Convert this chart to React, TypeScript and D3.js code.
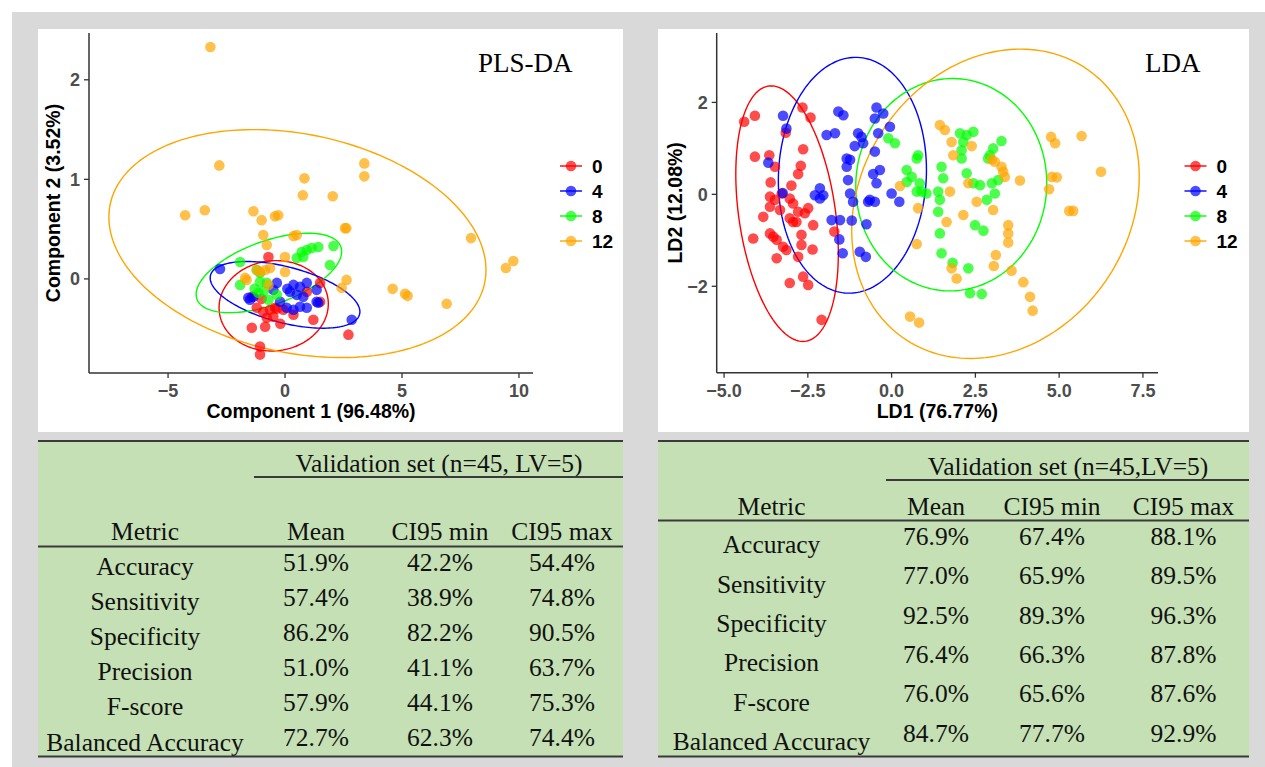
import React from "react";
import * as d3 from "d3";

type P = [number, number];

const groups = ["0", "4", "8", "12"];
const groupColors = ["#FF0000", "#0000FF", "#00FF00", "#FFA500"];

// ---------- PLS-DA scores ----------
const plsG0: P[] = [
  [-0.71, 0.22], [-1.42, -0.18], [-1.21, -0.29], [-0.93, -0.33], [-0.64, -0.31], [-0.5, -0.38],
  [-0.78, -0.39], [-1.42, -0.49], [-0.85, -0.48], [-1.07, -0.68], [-1.07, -0.76], [1.21, -0.41],
  [1.5, -0.04], [2.71, -0.56], [-0.43, -0.29], [-0.07, -0.31], [0.36, -0.36], [0.93, -0.13],
  [1.5, -0.23], [-0.35, -0.3], [-1.0, -0.2], [-0.2, -0.45],
];
const plsG4: P[] = [
  [-2.78, 0.1], [2.85, -0.41], [0.36, -0.06], [0.64, -0.08], [0.93, -0.04], [0.21, -0.13],
  [0.5, -0.16], [0.78, -0.18], [0.07, -0.29], [0.36, -0.31], [0.64, -0.28], [1.35, -0.23],
  [0.93, -0.29], [-1.5, -0.21], [-1.35, -0.18], [-0.35, -0.04], [-0.5, -0.11], [-0.21, -0.23],
  [1.35, -0.11], [1.42, -0.24], [-1.57, -0.19], [0.1, -0.1],
];
const plsG8: P[] = [
  [2.07, 0.33], [1.42, 0.32], [1.14, 0.31], [0.93, 0.29], [0.71, 0.27], [0.5, 0.21],
  [1.92, 0.14], [-1.92, 0.17], [-1.21, 0.09], [-1.07, 0.06], [-1.92, -0.06], [-1.07, -0.03],
  [-0.78, -0.04], [-1.14, -0.14], [-0.71, -0.21], [-0.35, -0.16], [0.78, 0.22], [-1.3, -0.1],
  [-0.9, -0.12],
];
const plsG12: P[] = [
  [-3.19, 2.33], [-2.81, 1.14], [0.83, 1.01], [0.76, 0.84], [2.04, 0.83], [-4.27, 0.64],
  [-3.43, 0.69], [-1.35, 0.68], [-1.0, 0.59], [-0.43, 0.63], [-0.29, 0.64], [2.56, 0.51],
  [2.62, 0.51], [-0.93, 0.44], [0.36, 0.43], [0.5, 0.44], [-0.78, 0.34], [0.0, 0.22],
  [2.63, -0.01], [2.42, -0.09], [-0.85, 0.09], [-1.07, 0.07], [-1.71, 0.01], [0.0, 0.07],
  [-0.71, -0.06], [-1.21, 0.09], [3.39, 1.16], [3.39, 1.03], [7.95, 0.41], [9.76, 0.18],
  [9.44, 0.11], [4.6, -0.1], [5.13, -0.15], [5.24, -0.17], [6.91, -0.25], [-0.64, 0.11],
  [-1.64, -0.01],
];
// ellipse: [cx, cy, half x-extent, half y-extent, y offset at x-extreme]
const plsEllipses: number[][] = [
  [-0.485, -0.27, 2.335, 0.454, 0.02],
  [0.0, -0.16, 3.2, 0.335, -0.17],
  [-0.69, 0.06, 3.11, 0.399, 0.215],
  [0.53, 0.355, 8.06, 1.145, -0.265],
];

// ---------- LDA scores ----------
const ldaG0: P[] = [
  [-4.4, 1.58], [-4.08, 1.71], [-2.66, 1.89], [-2.42, 1.67], [-3.16, 1.34], [-4.08, 0.82],
  [-3.65, 0.85], [-3.48, 0.6], [-2.64, 0.98], [-2.71, 0.62], [-2.79, 0.44], [-3.61, 0.26],
  [-2.99, 0.19], [-3.63, -0.05], [-3.48, -0.12], [-3.28, 0.02], [-3.04, -0.09], [-2.94, -0.2],
  [-3.83, -0.49], [-3.63, -0.27], [-3.33, -0.34], [-3.04, -0.52], [-2.94, -0.6], [-2.84, -0.6],
  [-2.79, -0.38], [-2.59, -0.41], [-2.49, -0.3], [-2.34, -0.67], [-4.13, -0.96], [-3.63, -0.85],
  [-3.53, -0.92], [-3.43, -0.99], [-3.24, -1.14], [-3.14, -1.21], [-3.43, -1.39], [-2.69, -0.88],
  [-2.69, -1.1], [-2.79, -1.36], [-2.36, -1.2], [-1.71, -0.81], [-3.04, -1.93], [-2.64, -1.79],
  [-2.49, -1.97], [-2.09, -2.73],
];
const ldaG4: P[] = [
  [-3.24, 1.71], [-3.14, 1.43], [-3.68, 0.69], [-3.25, 0.03], [-1.59, 1.8], [-1.44, 1.72],
  [-1.94, 1.29], [-1.69, 1.33], [-0.45, 1.89], [-0.25, 1.76], [-0.5, 1.65], [-0.05, 1.47],
  [-1.0, 1.33], [-0.9, 1.25], [-0.4, 1.33], [-1.1, 1.05], [-0.85, 1.11], [-0.5, 0.93],
  [-1.34, 0.78], [-1.24, 0.75], [-1.34, 0.6], [-0.35, 0.53], [-0.55, 0.44], [-0.45, 0.24],
  [-1.3, 0.31], [-2.14, 0.13], [-2.29, -0.02], [-2.04, -0.02], [-2.14, -0.09], [-1.24, 0.02],
  [-1.15, -0.16], [-0.7, -0.16], [-0.5, -0.16], [-0.65, -0.12], [0.0, 0.02], [0.23, -0.16],
  [-1.79, -0.56], [-1.54, -0.56], [-1.19, -0.57], [-0.75, -0.65], [-1.56, -0.98], [-1.46, -1.28],
  [-0.95, -1.25], [-0.77, -1.36],
];
const ldaG8: P[] = [
  [-0.1, 1.22], [0.1, 1.11], [0.79, 0.85], [0.75, 0.78], [0.45, 0.53], [0.6, 0.38],
  [0.45, 0.27], [0.75, 0.06], [0.9, 0.06], [1.04, 0.02], [0.84, 0.24], [1.39, 0.06],
  [1.44, -0.12], [1.49, 0.6], [1.54, 0.35], [1.39, -0.38], [1.44, -0.85], [1.49, -1.28],
  [1.82, -1.49], [2.04, 1.33], [2.24, 1.29], [2.09, 0.96], [2.24, 0.46], [2.29, -1.61],
  [2.34, -2.15], [2.44, 1.36], [2.14, 1.14], [3.28, 1.16], [2.09, 0.78], [3.03, 1.0],
  [2.93, 0.85], [2.88, 0.78], [2.44, 0.24], [2.64, 0.2], [2.99, 0.24], [3.08, 0.02],
  [3.18, 0.31], [2.84, -0.12], [2.49, -0.67], [2.74, -0.79], [2.69, -2.17],
];
const ldaG12: P[] = [
  [1.44, 1.51], [1.59, 1.4], [1.79, 1.14], [1.84, 0.85], [0.25, 0.18], [1.74, 0.06],
  [0.79, -0.3], [1.64, -0.6], [2.14, -0.45], [0.75, -1.08], [1.79, -1.61], [1.94, -1.83],
  [0.55, -2.66], [0.82, -2.79], [2.29, 0.24], [2.39, 1.05], [2.99, 0.76], [3.08, 0.71],
  [3.28, 0.6], [3.33, 0.49], [3.38, 0.38], [3.83, 0.3], [2.54, -0.16], [3.03, -0.34],
  [3.48, -0.67], [3.48, -0.85], [3.48, -1.05], [3.11, -1.32], [3.05, -1.56], [3.58, -1.66],
  [3.93, -1.91], [4.13, -2.23], [4.21, -2.53], [4.76, 1.25], [4.88, 1.11], [5.67, 1.27],
  [6.25, 0.49], [4.78, 0.38], [4.93, 0.37], [4.7, 0.11], [5.3, -0.36], [5.42, -0.36],
];
const ldaEllipses: number[][] = [
  [-3.12, -0.42, 1.53, 2.78, -0.86],
  [-1.17, 0.415, 2.21, 2.565, 0.115],
  [1.78, 0.21, 2.85, 2.31, 0.03],
  [3.1, -0.205, 4.29, 3.365, 0.585],
];

// ---------- ticks ----------
const plsXTicks = [-5, 0, 5, 10];
const plsXTickLabels = ["\u22125", "0", "5", "10"];
const plsYTicks = [0, 1, 2];
const plsYTickLabels = ["0", "1", "2"];
const ldaXTicks = [-5, -2.5, 0, 2.5, 5, 7.5];
const ldaXTickLabels = ["\u22125.0", "\u22122.5", "0.0", "2.5", "5.0", "7.5"];
const ldaYTicks = [-2, 0, 2];
const ldaYTickLabels = ["\u22122", "0", "2"];

// ---------- tables ----------
const metrics = ["Accuracy", "Sensitivity", "Specificity", "Precision", "F-score", "Balanced Accuracy"];
const headers = ["Metric", "Mean", "CI95 min", "CI95 max"];
const plsMean = ["51.9%", "57.4%", "86.2%", "51.0%", "57.9%", "72.7%"];
const plsMin = ["42.2%", "38.9%", "82.2%", "41.1%", "44.1%", "62.3%"];
const plsMax = ["54.4%", "74.8%", "90.5%", "63.7%", "75.3%", "74.4%"];
const ldaMean = ["76.9%", "77.0%", "92.5%", "76.4%", "76.0%", "84.7%"];
const ldaMin = ["67.4%", "65.9%", "89.3%", "66.3%", "65.6%", "77.7%"];
const ldaMax = ["88.1%", "89.5%", "96.3%", "87.8%", "87.6%", "92.9%"];

const SANS = "'Liberation Sans', Arial, Helvetica, sans-serif";
const SERIF = "'Liberation Serif', 'Times New Roman', Times, serif";

function ellipsePoints(e: number[]): P[] {
  const [cx, cy, rx, ry, k] = e;
  const b = Math.sqrt(Math.max(ry * ry - k * k, 0));
  return d3.range(0, 361, 2).map((deg) => {
    const t = (deg * Math.PI) / 180;
    return [cx + rx * Math.cos(t), cy + k * Math.cos(t) + b * Math.sin(t)] as P;
  });
}

interface ScatterProps {
  series: P[][];
  ellipses: number[][];
  xDomain: [number, number];
  yDomain: [number, number];
  xRange: [number, number];
  yRange: [number, number];
  xTicks: number[];
  xTickLabels: string[];
  yTicks: number[];
  yTickLabels: string[];
  xTitle: string;
  yTitle: string;
  yTitleX: number;
  title: string;
  titleX: number;
  legendX: number;
}

function Scatter(p: ScatterProps) {
  const x = d3.scaleLinear().domain(p.xDomain).range(p.xRange);
  const y = d3.scaleLinear().domain(p.yDomain).range(p.yRange);
  const line = d3
    .line<P>()
    .x((d) => x(d[0]))
    .y((d) => y(d[1]))
    .curve(d3.curveLinearClosed);
  const x0 = p.xRange[0];
  const yb = p.yRange[0];
  const axisColor = "#333333";
  return (
    <g>
      {p.ellipses.map((e, i) => (
        <path key={"e" + i} d={line(ellipsePoints(e)) || ""} fill="none" stroke={groupColors[i]} strokeWidth={1.4} />
      ))}
      {p.series.map((s, gi) =>
        s.map((d, j) => (
          <circle key={gi + "-" + j} cx={x(d[0])} cy={y(d[1])} r={5.3} fill={groupColors[gi]} fillOpacity={0.7} />
        ))
      )}
      {/* axes */}
      <line x1={x0} x2={x0} y1={p.yRange[1]} y2={yb} stroke={axisColor} strokeWidth={1.5} />
      <line x1={x0} x2={p.xRange[1]} y1={yb} y2={yb} stroke={axisColor} strokeWidth={1.5} />
      {p.xTicks.map((t, i) => (
        <g key={"xt" + i}>
          <line x1={x(t)} x2={x(t)} y1={yb} y2={yb + 5} stroke={axisColor} strokeWidth={1.3} />
          <text x={x(t)} y={yb + 24} textAnchor="middle" fontFamily={SANS} fontWeight="bold" fontSize={18} fill="#4D4D4D">
            {p.xTickLabels[i]}
          </text>
        </g>
      ))}
      {p.yTicks.map((t, i) => (
        <g key={"yt" + i}>
          <line x1={x0 - 5} x2={x0} y1={y(t)} y2={y(t)} stroke={axisColor} strokeWidth={1.3} />
          <text x={x0 - 9} y={y(t) + 6.5} textAnchor="end" fontFamily={SANS} fontWeight="bold" fontSize={18} fill="#4D4D4D">
            {p.yTickLabels[i]}
          </text>
        </g>
      ))}
      <text
        x={(p.xRange[0] + p.xRange[1]) / 2}
        y={418}
        textAnchor="middle"
        fontFamily={SANS}
        fontWeight="bold"
        fontSize={19.5}
        fill="#000"
      >
        {p.xTitle}
      </text>
      <text
        transform={`translate(${p.yTitleX},${(p.yRange[0] + p.yRange[1]) / 2}) rotate(-90)`}
        textAnchor="middle"
        fontFamily={SANS}
        fontWeight="bold"
        fontSize={19.5}
        fill="#000"
      >
        {p.yTitle}
      </text>
      <text x={p.titleX} y={72} fontFamily={SERIF} fontSize={27} fill="#000">
        {p.title}
      </text>
      {groups.map((g, i) => {
        const ly = 166 + i * 25;
        return (
          <g key={"lg" + i}>
            <line x1={p.legendX - 11} x2={p.legendX + 11} y1={ly} y2={ly} stroke={groupColors[i]} strokeWidth={1.4} />
            <circle cx={p.legendX} cy={ly} r={5.3} fill={groupColors[i]} fillOpacity={0.7} />
            <text x={p.legendX + 21} y={ly + 6.8} fontFamily={SANS} fontWeight="bold" fontSize={19} fill="#000">
              {g}
            </text>
          </g>
        );
      })}
    </g>
  );
}

interface TableProps {
  x0: number;
  x1: number;
  top: number;
  bottom: number;
  caption: string;
  captionX: number;
  captionY: number;
  underlineY: number;
  underlineX0: number;
  headerY: number;
  headerLineY: number;
  nameX: number;
  colX: number[];
  nameY0: number;
  numY0: number;
  rowStep: number;
  mean: string[];
  min: string[];
  max: string[];
}

function MetricTable(t: TableProps) {
  const fs = 25.5;
  const lc = "#3A3A3A";
  const cols = [t.mean, t.min, t.max];
  return (
    <g fontFamily={SERIF} fontSize={fs} fill="#111">
      <rect x={t.x0} y={t.top} width={t.x1 - t.x0} height={t.bottom - t.top} fill="#C5E0B4" />
      <line x1={t.x0} x2={t.x1} y1={t.top} y2={t.top} stroke={lc} strokeWidth={2} />
      <text x={t.captionX} y={t.captionY} textAnchor="middle">
        {t.caption}
      </text>
      <line x1={t.underlineX0} x2={t.x1} y1={t.underlineY} y2={t.underlineY} stroke={lc} strokeWidth={2} />
      <text x={t.nameX} y={t.headerY} textAnchor="middle">
        {headers[0]}
      </text>
      {t.colX.map((cx, i) => (
        <text key={"h" + i} x={cx} y={t.headerY} textAnchor="middle">
          {headers[i + 1]}
        </text>
      ))}
      <line x1={t.x0} x2={t.x1} y1={t.headerLineY} y2={t.headerLineY} stroke={lc} strokeWidth={2} />
      {metrics.map((m, r) => (
        <g key={"r" + r}>
          <text x={t.nameX} y={t.nameY0 + r * t.rowStep} textAnchor="middle">
            {m}
          </text>
          {cols.map((c, ci) => (
            <text key={ci} x={t.colX[ci]} y={t.numY0 + r * t.rowStep} textAnchor="middle">
              {c[r]}
            </text>
          ))}
        </g>
      ))}
      <line x1={t.x0} x2={t.x1} y1={t.bottom} y2={t.bottom} stroke={lc} strokeWidth={2} />
    </g>
  );
}

export default function App() {
  return (
    <svg
      width={1265}
      height={767}
      style={{ position: "absolute", left: 0, top: 0, display: "block" }}
      xmlns="http://www.w3.org/2000/svg"
    >
      <rect x={0} y={0} width={1265} height={767} fill="#FFFFFF" />
      <rect x={12} y={12} width={1253} height={755} fill="#D9D9D9" />
      <rect x={38} y={29} width={585} height={403} fill="#FFFFFF" />
      <rect x={658} y={29} width={591} height={403} fill="#FFFFFF" />

      <Scatter
        series={[plsG0, plsG4, plsG8, plsG12]}
        ellipses={plsEllipses}
        xDomain={[-8.38, 10.6]}
        yDomain={[-0.945, 2.47]}
        xRange={[89, 533]}
        yRange={[373, 33]}
        xTicks={plsXTicks}
        xTickLabels={plsXTickLabels}
        yTicks={plsYTicks}
        yTickLabels={plsYTickLabels}
        xTitle="Component 1 (96.48%)"
        yTitle="Component 2 (3.52%)"
        yTitleX={60}
        title="PLS-DA"
        titleX={478}
        legendX={571}
      />
      <Scatter
        series={[ldaG0, ldaG4, ldaG8, ldaG12]}
        ellipses={ldaEllipses}
        xDomain={[-5.22, 7.95]}
        yDomain={[-3.88, 3.51]}
        xRange={[716.7, 1158]}
        yRange={[372.7, 33]}
        xTicks={ldaXTicks}
        xTickLabels={ldaXTickLabels}
        yTicks={ldaYTicks}
        yTickLabels={ldaYTickLabels}
        xTitle="LD1 (76.77%)"
        yTitle="LD2 (12.08%)"
        yTitleX={682}
        title="LDA"
        titleX={1145}
        legendX={1195.5}
      />

      <MetricTable
        x0={38}
        x1={623}
        top={441}
        bottom={756.5}
        caption="Validation set (n=45, LV=5)"
        captionX={439}
        captionY={471.5}
        underlineY={477}
        underlineX0={254}
        headerY={540}
        headerLineY={546.5}
        nameX={145}
        colX={[316, 440, 562]}
        nameY0={575}
        numY0={570.7}
        rowStep={35.1}
        mean={plsMean}
        min={plsMin}
        max={plsMax}
      />
      <MetricTable
        x0={658}
        x1={1249}
        top={441}
        bottom={756.5}
        caption="Validation set (n=45,LV=5)"
        captionX={1068}
        captionY={475}
        underlineY={480}
        underlineX0={886}
        headerY={515}
        headerLineY={520.5}
        nameX={771.5}
        colX={[936, 1052, 1183.5]}
        nameY0={553.3}
        numY0={545}
        rowStep={39.3}
        mean={ldaMean}
        min={ldaMin}
        max={ldaMax}
      />
    </svg>
  );
}
